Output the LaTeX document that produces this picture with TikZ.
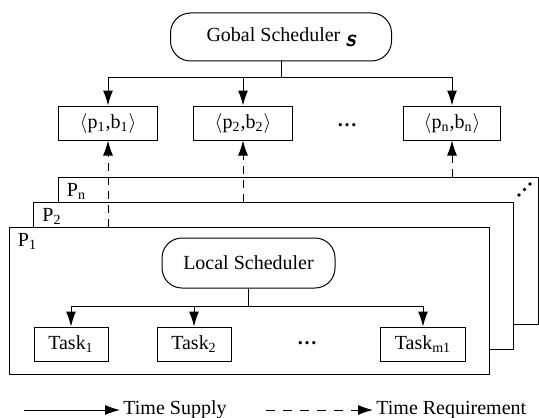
\documentclass[tikz,border=0pt]{standalone}
\usepackage{fontspec}
\setmainfont{Liberation Serif}
\usetikzlibrary{arrows.meta}

\tikzset{
  box/.style={draw, line width=0.5pt, minimum height=17pt, inner sep=0pt},
  sched/.style={draw, line width=0.5pt, rounded corners=10pt, inner sep=0pt},
  proc/.style={draw, line width=0.5pt, fill=white, minimum width=240pt, minimum height=73.5pt, inner sep=0pt},
  supply/.style={line width=0.5pt, -{Latex[length=7.5pt,width=5pt]}},
  request/.style={supply, dash pattern=on 4pt off 3pt},
}

\begin{document}
\begin{tikzpicture}[x=0.5pt, y=-0.5pt]
    \useasboundingbox (0,0) rectangle (539,417);

    % processor frames, back to front
    \node[proc] (frn) at (298,250.5) {};
    \node[proc] (fr2) at (273.5,275.5) {};
    \node[proc] (fr1) at (249,300.5) {};
    \node[anchor=north west, inner sep=0pt] (lpn) at ([shift={(4.5pt,-3.5pt)}]frn.north west) {P\textsubscript{n}};
    \node[anchor=north west, inner sep=0pt] (lp2) at ([shift={(4.5pt,-3.5pt)}]fr2.north west) {P\textsubscript{2}};
    \node[anchor=north west, inner sep=0pt] (lp1) at ([shift={(4.5pt,-3.5pt)}]fr1.north west) {P\textsubscript{1}};
    \foreach \d in {0,1,2}
        \fill (519+5.5*\d,195-5.5*\d) circle (0.9pt);

    % global level
    \node[sched, minimum width=110.5pt, minimum height=24pt] (glob) at (281,37)
        {Gobal Scheduler\ \raisebox{-2.5pt}{\sffamily\bfseries\slshape\large s}};
    \node[box, minimum width=49.5pt] (pb1) at (108,123) {$\langle$p\textsubscript{1},b\textsubscript{1}$\rangle$};
    \node[box, minimum width=49.5pt] (pb2) at (243,123) {$\langle$p\textsubscript{2},b\textsubscript{2}$\rangle$};
    \node[box, minimum width=48.5pt] (pbn) at (452,123) {$\langle$p\textsubscript{n},b\textsubscript{n}$\rangle$};
    \node (gdots) at (347,125) {\textbf{\dots}};

    \coordinate (gsplit) at (281,78);
    \draw[line width=0.5pt] (glob) -- (gsplit);
    \draw[supply] (gsplit) -| (pb1);
    \draw[supply] (gsplit) -| (pb2);
    \draw[supply] (gsplit) -| (pbn);

    \draw[request] (fr1.north -| pb1) -- (pb1);
    \draw[request] (fr2.north -| pb2) -- (pb2);
    \draw[request] (frn.north -| pbn) -- (pbn);

    % local level
    \node[sched, minimum width=86.5pt, minimum height=25pt] (loc) at (248.5,263) {Local Scheduler};
    \node[box, minimum width=37pt] (t1) at (71,344) {Task\textsubscript{1}};
    \node[box, minimum width=37pt] (t2) at (194,344) {Task\textsubscript{2}};
    \node[box, minimum width=42.5pt] (tm) at (423,344) {Task\textsubscript{m1}};
    \node (tdots) at (307,343) {\textbf{\dots}};

    \coordinate (lsplit) at (248.5,306);
    \draw[line width=0.5pt] (loc) -- (lsplit);
    \draw[supply] (lsplit) -| (t1);
    \draw[supply] (lsplit) -| (t2);
    \draw[supply] (lsplit) -| (tm);

    % legend
    \coordinate (ls1) at (24,410);
    \coordinate (ls2) at (120,410);
    \coordinate (lr1) at (266,410);
    \coordinate (lr2) at (373,410);
    \draw[supply] (ls1) -- (ls2);
    \node[anchor=west, inner sep=1.5pt] (lsup) at (ls2) {Time Supply};
    \draw[request, dash pattern=on 4.5pt off 4pt] (lr1) -- (lr2);
    \node[anchor=west, inner sep=1.5pt] (lreq) at (lr2) {Time Requirement};
\end{tikzpicture}
\end{document}
